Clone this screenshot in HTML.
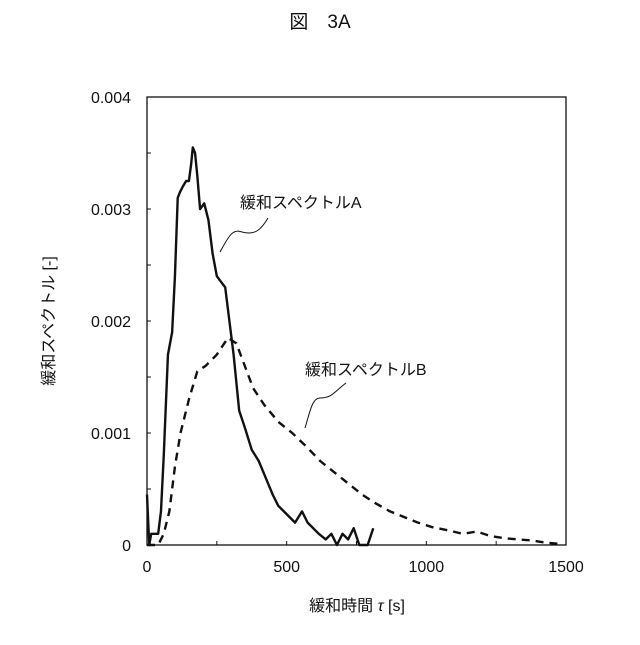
<!DOCTYPE html>
<html><head><meta charset="utf-8"><style>
body{margin:0;background:#fff;}
svg text{font-family:"Liberation Sans","Noto Sans CJK JP",sans-serif;fill:#111;}
</style></head><body>
<svg width="640" height="640" viewBox="0 0 640 640">
<text x="320" y="28" font-size="19" text-anchor="middle">図　3A</text>
<g id="axes"></g>
<g id="series"></g>
<text x="240" y="208" font-size="16">緩和スペクトルA</text>
<path d="M220,252 C228,238 232,228 242,232 C256,236 262,228 268,218" fill="none" stroke="#111" stroke-width="1"/>
<text x="305" y="375" font-size="16">緩和スペクトルB</text>
<path d="M305,428 C310,412 312,398 320,398 C332,398 334,392 346,383" fill="none" stroke="#111" stroke-width="1"/>
<text transform="translate(54,321) rotate(-90)" font-size="16" text-anchor="middle">緩和スペクトル [-]</text>
<text x="357" y="611" font-size="16" text-anchor="middle">緩和時間 <tspan font-style="italic">τ</tspan> [s]</text>
</svg>
<script>
const xTicks=[0,500,1000,1500];
const yTicks=[0,0.001,0.002,0.003,0.004];
const yTickLabels=["0","0.001","0.002","0.003","0.004"];
const seriesAx=[0,8,15,25,40,50,60,75,90,100,110,118,128,140,150,158,164,172,180,190,205,220,235,250,265,280,295,310,330,350,375,400,425,450,470,490,510,530,555,575,595,615,640,660,680,700,720,740,760,775,790,810];
const seriesAy=[0.00045,0,0.0001,0.0001,0.0001,0.0003,0.0008,0.0017,0.0019,0.0024,0.0031,0.00315,0.0032,0.00325,0.00325,0.0034,0.00355,0.0035,0.0033,0.003,0.00305,0.0029,0.0026,0.0024,0.00235,0.0023,0.0020,0.0017,0.0012,0.00105,0.00085,0.00075,0.0006,0.00045,0.00035,0.0003,0.00025,0.0002,0.0003,0.0002,0.00015,0.0001,0.00005,0.0001,0,0.0001,0.00005,0.00015,0,0,0,0.00015];
const seriesBx=[0,40,60,80,100,120,150,180,210,250,290,320,350,380,420,470,520,570,620,670,720,770,820,870,920,970,1020,1080,1130,1180,1230,1280,1330,1380,1430,1480];
const seriesBy=[0,0,0.0001,0.0003,0.0007,0.001,0.0013,0.00155,0.0016,0.0017,0.00185,0.0018,0.0016,0.0014,0.00125,0.0011,0.001,0.00088,0.00075,0.00065,0.00055,0.00045,0.00037,0.0003,0.00025,0.0002,0.00016,0.00013,0.0001,0.00012,0.00008,0.00006,0.00005,0.00004,0.00002,0.00001];
const L=147,R=566,T=97,B=545,NS="http://www.w3.org/2000/svg";
const xs=v=>L+(R-L)*v/1500, ys=v=>B-(B-T)*v/0.004;
const ax=document.getElementById('axes'), sg=document.getElementById('series');
function mk(tag,attrs,parent){const e=document.createElementNS(NS,tag);for(const k in attrs)e.setAttribute(k,attrs[k]);parent.appendChild(e);return e;}
const frame=mk('rect',{x:L,y:T,width:R-L,height:B-T,fill:'none',stroke:'#111','stroke-width':1.3},ax);


xTicks.forEach(v=>{const t=mk('text',{x:xs(v),y:B+27,'font-size':16,'text-anchor':'middle'},ax);t.textContent=v;

});
for(let v=0;v<=1500;v+=250){const l=mk('line',{x1:xs(v),x2:xs(v),y1:B,y2:B-4,stroke:'#111'},ax);

}
yTicks.forEach((v,i)=>{const t=mk('text',{x:L-16,y:ys(v)+6,'font-size':16,'text-anchor':'end'},ax);t.textContent=yTickLabels[i];

});
for(let v=0;v<=0.004;v+=0.0005){const l=mk('line',{x1:L,x2:L+4,y1:ys(v),y2:ys(v),stroke:'#111'},ax);

}
const pa=mk('polyline',{points:seriesAx.map((x,i)=>xs(x)+','+ys(seriesAy[i])).join(' '),fill:'none',stroke:'#111','stroke-width':2.4,'stroke-linejoin':'round'},sg);


const pb=mk('polyline',{points:seriesBx.map((x,i)=>xs(x)+','+ys(seriesBy[i])).join(' '),fill:'none',stroke:'#111','stroke-width':2.4,'stroke-dasharray':'8,6'},sg);


</script>
</body></html>
